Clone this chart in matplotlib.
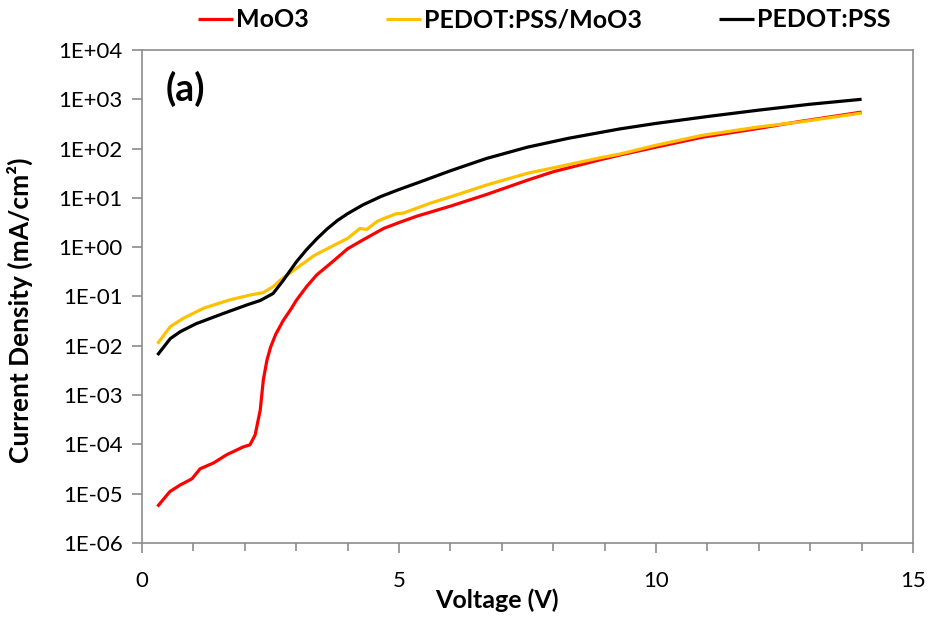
import numpy as np
import matplotlib
matplotlib.use("Agg")
import matplotlib.pyplot as plt
from matplotlib.ticker import LogLocator, FixedLocator, NullLocator, FuncFormatter

plt.rcParams['font.family'] = ['Lato', 'DejaVu Sans']

# MoO3
v_moo3 = [0.3, 0.54, 0.74, 0.97, 1.13, 1.39, 1.65, 1.97, 2.1, 2.2, 2.3, 2.36, 2.43,
          2.5, 2.6, 2.75, 2.9, 3.0, 3.2, 3.4, 3.7, 4.0, 4.3, 4.7, 5.0, 5.35, 6.0, 6.7,
          7.5, 8.0, 8.9, 9.3, 10.0, 10.9, 12.0, 12.8, 14.0]
j_moo3 = [5.5e-6, 1.1e-5, 1.5e-5, 2.0e-5, 3.2e-5, 4.2e-5, 6.2e-5, 8.9e-5, 9.8e-5,
          1.55e-4, 5.0e-4, 2.04e-3, 5.1e-3, 9.3e-3, 1.7e-2, 3.3e-2, 5.6e-2, 8.3e-2,
          0.158, 0.275, 0.50, 0.93, 1.41, 2.4, 3.16, 4.27, 6.8, 11.7, 22.9, 33.9,
          58.9, 74, 107, 170, 257, 355, 550]

# PEDOT:PSS/MoO3
v_pm = [0.3, 0.55, 0.8, 1.2, 1.7, 2.1, 2.36, 2.55, 2.7, 3.0, 3.35, 3.85, 4.0, 4.24,
        4.37, 4.57, 4.7, 4.95, 5.08, 5.6, 6.0, 6.7, 7.5, 8.0, 8.9, 9.3, 10.0, 10.9,
        12.0, 12.8, 14.0]
j_pm = [0.011, 0.0245, 0.036, 0.058, 0.085, 0.107, 0.12, 0.158, 0.219, 0.37, 0.68,
        1.26, 1.51, 2.4, 2.29, 3.31, 3.8, 4.79, 4.9, 7.76, 10.5, 18.2, 31.6, 40.7,
        64.6, 77.6, 117, 186, 275, 347, 525]

# PEDOT:PSS
v_pedot = [0.3, 0.55, 0.75, 1.05, 1.6, 2.05, 2.3, 2.55, 2.75, 3.0, 3.2, 3.4, 3.6,
           3.8, 4.0, 4.3, 4.65, 5.0, 5.4, 6.0, 6.7, 7.5, 8.3, 9.3, 10.0, 11.0, 12.0,
           13.0, 14.0]
j_pedot = [0.0065, 0.014, 0.0195, 0.028, 0.046, 0.068, 0.083, 0.115, 0.214, 0.50,
           0.89, 1.48, 2.34, 3.47, 4.79, 7.24, 10.7, 14.8, 20.9, 35.5, 63, 107, 162,
           251, 324, 447, 603, 794, 1000]

fig = plt.figure(figsize=(9.32, 6.21), dpi=100)
ax = fig.add_axes([0.1524, 0.1256, 0.8272, 0.7939])

kw = dict(lw=2.3, solid_joinstyle='round', solid_capstyle='butt')
ax.plot(v_moo3, j_moo3, color='#ff0000', label='MoO3', **kw)
ax.plot(v_pm, j_pm, color='#ffc000', label='PEDOT:PSS/MoO3', **kw)
ax.plot(v_pedot, j_pedot, color='black', label='PEDOT:PSS', **kw)

ax.set_yscale('log')
ax.set_xlim(0, 15)
ax.set_ylim(1e-6, 1e4)
ax.xaxis.set_major_locator(FixedLocator([0, 5, 10, 15]))
ax.xaxis.set_minor_locator(FixedLocator(range(16)))
ax.yaxis.set_major_locator(LogLocator(base=10, numticks=20))
ax.yaxis.set_minor_locator(NullLocator())
ax.yaxis.set_major_formatter(FuncFormatter(
    lambda y, p: '1E{:+03d}'.format(int(round(np.log10(y))))))

grey = '#8c8c8c'
for s in ax.spines.values():
    s.set_color(grey)
    s.set_linewidth(1.2)
ax.tick_params(which='both', direction='out', color=grey, width=1.2, labelsize=16)
ax.tick_params(which='major', length=7, pad=7)
ax.tick_params(which='minor', length=6)
ax.tick_params(axis='x', pad=13)

ax.set_xlabel('Voltage (V)', fontsize=18, fontweight='bold')
ax.xaxis.set_label_coords(0.46, -0.093)
ax.set_ylabel('Current Density (mA/cm²)', fontsize=19, fontweight='bold')
ax.yaxis.set_label_coords(-0.141, 0.473)

ax.text(0.056, 0.921, '(a)', transform=ax.transAxes, fontsize=27,
        fontweight='bold', ha='center', va='center')

fig.legend(loc='center', bbox_to_anchor=(0.584, 0.968), ncol=3, frameon=False,
           handlelength=1.4, handletextpad=0.12, columnspacing=3.1,
           prop={'size': 18, 'weight': 'bold'})

fig.savefig('out.png', dpi=100)
